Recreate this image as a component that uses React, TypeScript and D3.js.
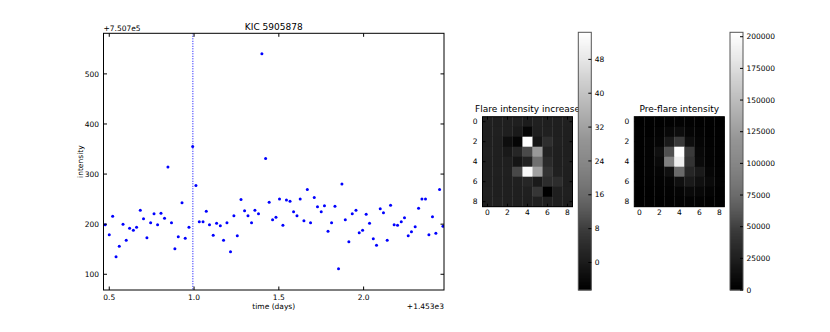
import React from "react";
import * as d3 from "d3";

// light curve (offsets: time +1.453e3 days, intensity +7.507e5)
const times = [
  0.476, 0.5, 0.52, 0.54, 0.559, 0.581, 0.6, 0.62, 0.642, 0.661,
  0.683, 0.702, 0.722, 0.744, 0.764, 0.785, 0.805, 0.826, 0.846, 0.867,
  0.887, 0.907, 0.929, 0.948, 0.97, 0.992, 1.011, 1.031, 1.053, 1.072,
  1.091, 1.113, 1.133, 1.155, 1.174, 1.194, 1.215, 1.235, 1.255, 1.277,
  1.298, 1.318, 1.339, 1.359, 1.38, 1.4, 1.422, 1.443, 1.463, 1.483,
  1.504, 1.524, 1.545, 1.566, 1.587, 1.607, 1.626, 1.648, 1.668, 1.687,
  1.709, 1.728, 1.75, 1.769, 1.79, 1.811, 1.831, 1.852, 1.872, 1.892,
  1.913, 1.933, 1.955, 1.974, 1.994, 2.015, 2.035, 2.057, 2.076, 2.098,
  2.117, 2.139, 2.159, 2.18, 2.2, 2.222, 2.241, 2.263, 2.282, 2.304,
  2.324, 2.344, 2.365, 2.385, 2.406, 2.426, 2.448, 2.468,
];
const intensity = [
  199, 179, 216, 135, 156, 200, 168, 192, 188, 194,
  228, 211, 173, 203, 221, 199, 222, 212, 314, 203,
  151, 175, 243, 172, 194, 355, 277, 205, 205, 226,
  199, 178, 202, 197, 168, 203, 145, 217, 177, 249,
  227, 217, 203, 228, 221, 540, 331, 244, 209, 214,
  250, 198, 248, 246, 225, 217, 250, 207, 269, 203,
  253, 235, 225, 237, 186, 203, 236, 111, 280, 209,
  165, 221, 228, 183, 188, 220, 202, 171, 158, 231,
  223, 168, 238, 199, 198, 205, 213, 177, 185, 195,
  232, 250, 250, 179, 215, 182, 269, 196,
];
const flareTime = 0.993;
const xTicks = [0.5, 1.0, 1.5, 2.0];
const yTicks = [100, 200, 300, 400, 500];

// 9x9 pixel stamps
const flareIncrease = [
  [1.2, 0.9, 1.0, 0.8, 0.2, 1.1, 1.0, 0.9, 1.1],
  [1.0, 1.1, 0.9, -0.4, -5.0, 1.0, 1.2, 1.0, 0.9],
  [0.9, 1.0, -3.1, -5.3, 54.4, -1.5, 4.5, 1.1, 1.0],
  [1.1, 0.8, -0.5, 2.6, 11.2, 30.1, 1.6, 0.9, 1.0],
  [1.0, 1.0, 0.9, -1.5, 1.6, 20.3, 3.5, 1.0, 1.1],
  [0.9, 1.1, 1.2, 10.6, 53.0, 31.8, 5.6, 1.1, 0.9],
  [1.0, 0.9, 1.0, 1.1, 2.6, -0.4, 4.0, 4.2, 1.0],
  [1.1, 1.0, 0.9, 1.0, 1.2, 6.3, -6.5, 1.0, 1.1],
  [1.0, 1.1, 1.0, 0.9, 1.0, 1.1, 0.9, 1.0, 1.0],
];
const preFlare = [
  [0, 500, 800, 1200, 2000, 1500, 800, 400, 0],
  [500, 1000, 2000, 6400, 10400, 4000, 2000, 1000, 500],
  [800, 2000, 4000, 20400, 46000, 11200, 4000, 1500, 800],
  [1000, 2500, 12800, 64000, 203500, 46000, 6400, 2000, 1000],
  [1000, 2500, 8000, 102000, 191000, 40700, 8000, 2500, 1000],
  [800, 2000, 4000, 12800, 84600, 30300, 20400, 5000, 1500],
  [500, 1500, 2500, 4000, 12800, 20400, 12800, 8000, 2000],
  [300, 1000, 1500, 2500, 4000, 8000, 6400, 3000, 1000],
  [0, 500, 1000, 1500, 2000, 2500, 2000, 1000, 500],
];
const pixTicks = [0, 2, 4, 6, 8];
const cbar1Ticks = [0, 8, 16, 24, 32, 40, 48];
const cbar2Ticks = [0, 25000, 50000, 75000, 100000, 125000, 150000, 175000, 200000];

const FONT = "DejaVu Sans, sans-serif";
const TICK_FS = 7.5;
const TITLE_FS = 9;

const Heatmap = ({ data, left, top, title }) => {
  const size = 90;
  const idx = d3.range(9);
  const cx = d3.scaleBand().domain(idx).range([left, left + size]);
  const cy = d3.scaleBand().domain(idx).range([top, top + size]);
  const flat = data.flat();
  const color = d3
    .scaleLinear()
    .domain([d3.min(flat), d3.max(flat)])
    .range(["#000000", "#ffffff"]);
  const bw = cx.bandwidth();
  return (
    <g>
      {data.map((row, r) =>
        row.map((v, c) => (
          <rect key={r + "-" + c} x={cx(c)} y={cy(r)} width={bw + 0.3} height={bw + 0.3} fill={color(v)} />
        ))
      )}
      <rect x={left} y={top} width={size} height={size} fill="none" stroke="#000" strokeWidth={1} />
      {pixTicks.map((t) => {
        const px = cx(t) + bw / 2;
        const py = cy(t) + bw / 2;
        return (
          <g key={t}>
            <line x1={px} x2={px} y1={top + size} y2={top + size - 3} stroke="#000" />
            <line x1={px} x2={px} y1={top} y2={top + 3} stroke="#000" />
            <line x1={left} x2={left + 3} y1={py} y2={py} stroke="#000" />
            <line x1={left + size} x2={left + size - 3} y1={py} y2={py} stroke="#000" />
            <text x={px} y={top + size + 8} textAnchor="middle" fontSize={TICK_FS}>{t}</text>
            <text x={left - 5} y={py + 2.7} textAnchor="end" fontSize={TICK_FS}>{t}</text>
          </g>
        );
      })}
      <text x={left + size / 2} y={top - 4.5} textAnchor="middle" fontSize={TITLE_FS}>{title}</text>
    </g>
  );
};

const Colorbar = ({ left, domain, ticks }) => {
  const width = 13;
  const top = 32.3;
  const bottom = 290;
  const y = d3.scaleLinear().domain(domain).range([bottom, top]);
  const color = d3.scaleLinear().domain(domain).range(["#000000", "#ffffff"]);
  const steps = d3.range(0, 256);
  const h = (bottom - top) / 256;
  return (
    <g>
      {steps.map((i) => {
        const v = domain[0] + ((i + 0.5) / 256) * (domain[1] - domain[0]);
        return <rect key={i} x={left} y={bottom - (i + 1) * h} width={width} height={h + 0.4} fill={color(v)} />;
      })}
      <rect x={left} y={top} width={width} height={bottom - top} fill="none" stroke="#555" strokeWidth={1} />
      {ticks.map((t) => (
        <g key={t}>
          <line x1={left + width} x2={left + width - 3} y1={y(t)} y2={y(t)} stroke="#000" />
          <text x={left + width + 3.5} y={y(t) + 2.7} fontSize={TICK_FS}>{t}</text>
        </g>
      ))}
    </g>
  );
};

const App = () => {
  const margin = { top: 33.3, right: 444, bottom: 290, left: 103.5 };
  const x = d3.scaleLinear().domain([0.466, 2.474]).range([margin.left, margin.right]);
  const y = d3.scaleLinear().domain([68.6, 581]).range([margin.bottom, margin.top]);
  const tl = 3.5;

  return (
    <svg
      width={830}
      height={332}
      style={{ position: "absolute", left: 0, top: 0, background: "#fff" }}
      fontFamily={FONT}
    >
      <rect width={830} height={332} fill="#fff" />
      <defs>
        <clipPath id="plotclip">
          <rect x={margin.left} y={margin.top} width={margin.right - margin.left} height={margin.bottom - margin.top} />
        </clipPath>
      </defs>

      {/* light curve */}
      <g clipPath="url(#plotclip)">
        <line x1={x(flareTime)} x2={x(flareTime)} y1={margin.top} y2={margin.bottom} stroke="#0000ff" strokeWidth={1} strokeDasharray="1,1.5" />
        {times.map((t, i) => (
          <circle key={i} cx={x(t)} cy={y(intensity[i])} r={1.5} fill="#0000ff" />
        ))}
      </g>
      <rect x={margin.left} y={margin.top} width={margin.right - margin.left} height={margin.bottom - margin.top} fill="none" stroke="#000" strokeWidth={1} />
      {xTicks.map((t) => (
        <g key={t}>
          <line x1={x(t)} x2={x(t)} y1={margin.bottom} y2={margin.bottom - tl} stroke="#000" />
          <line x1={x(t)} x2={x(t)} y1={margin.top} y2={margin.top + tl} stroke="#000" />
          <text x={x(t)} y={300} textAnchor="middle" fontSize={TICK_FS}>{d3.format(".1f")(t)}</text>
        </g>
      ))}
      {yTicks.map((t) => (
        <g key={t}>
          <line x1={margin.left} x2={margin.left + tl} y1={y(t)} y2={y(t)} stroke="#000" />
          <line x1={margin.right} x2={margin.right - tl} y1={y(t)} y2={y(t)} stroke="#000" />
          <text x={99} y={y(t) + 2.7} textAnchor="end" fontSize={TICK_FS}>{t}</text>
        </g>
      ))}
      <text x={margin.left} y={31} fontSize={TICK_FS}>+7.507e5</text>
      <text x={margin.right} y={309} textAnchor="end" fontSize={TICK_FS}>+1.453e3</text>
      <text x={(margin.left + margin.right) / 2} y={30} textAnchor="middle" fontSize={TITLE_FS}>KIC 5905878</text>
      <text x={(margin.left + margin.right) / 2} y={309} textAnchor="middle" fontSize={TICK_FS}>time (days)</text>
      <text transform={`translate(83, ${(margin.top + margin.bottom) / 2}) rotate(-90)`} textAnchor="middle" fontSize={TICK_FS}>intensity</text>

      {/* pixel stamps */}
      <Heatmap data={flareIncrease} left={482.5} top={116.7} title="Flare intensity increase" />
      <Colorbar left={578.3} domain={[-6.5, 54.4]} ticks={cbar1Ticks} />
      <Heatmap data={preFlare} left={634.3} top={116.7} title="Pre-flare intensity" />
      <Colorbar left={730} domain={[0, 203500]} ticks={cbar2Ticks} />
    </svg>
  );
};

export default App;
